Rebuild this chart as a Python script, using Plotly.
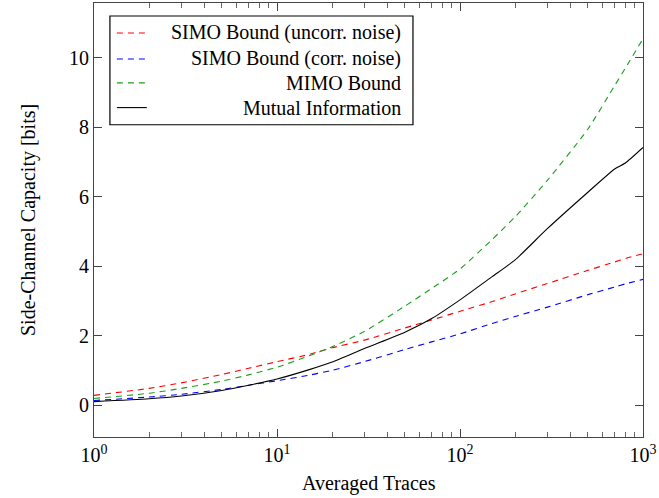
import plotly.graph_objects as go

# Data
x_vals = [1, 2, 3, 5, 7, 10, 15, 20, 30, 50, 70, 100, 150, 200, 300, 500, 700, 800, 1000]
simo_uncorr = [0.28, 0.48, 0.64, 0.88, 1.06, 1.25, 1.46, 1.65, 1.87, 2.22, 2.45, 2.70, 2.98, 3.20, 3.50, 3.88, 4.12, 4.22, 4.36]
simo_corr = [0.13, 0.23, 0.31, 0.45, 0.57, 0.70, 0.86, 1.00, 1.25, 1.60, 1.82, 2.05, 2.35, 2.55, 2.82, 3.18, 3.40, 3.49, 3.62]
mimo = [0.19, 0.34, 0.48, 0.69, 0.87, 1.09, 1.42, 1.68, 2.12, 2.85, 3.36, 3.92, 4.77, 5.42, 6.47, 7.95, 9.20, 9.70, 10.55]
mutual_info = [0.10, 0.18, 0.26, 0.42, 0.57, 0.75, 1.02, 1.24, 1.63, 2.10, 2.49, 3.03, 3.70, 4.18, 5.08, 6.13, 6.80, 6.97, 7.42]

series_names = ["SIMO Bound (uncorr. noise)", "SIMO Bound (corr. noise)", "MIMO Bound", "Mutual Information"]
series_colors = ["#ff0000", "#0000ff", "#1a9e1a", "#000000"]
series_dash = ["6px,5px", "6px,5px", "6px,5px", "solid"]
series_data = [simo_uncorr, simo_corr, mimo, mutual_info]

x_tickvals = [1, 10, 100, 1000]
x_ticktext = ["10<sup>0</sup>", "10<sup>1</sup>", "10<sup>2</sup>", "10<sup>3</sup>"]
y_tickvals = [0, 2, 4, 6, 8, 10]

FONT = "Liberation Serif"
FS = 20

fig = go.Figure()
for name, ys, col, dash in zip(series_names, series_data, series_colors, series_dash):
    fig.add_trace(go.Scatter(x=x_vals, y=ys, mode="lines", name=name,
                             line=dict(color=col, width=1.1, dash=dash, shape="spline", smoothing=0.6),
                             showlegend=False))

minor_vals = [m * 10 ** k for k in range(3) for m in range(2, 10)]

fig.update_layout(
    width=659, height=498,
    margin=dict(l=94, r=14, t=2, b=61),
    plot_bgcolor="white", paper_bgcolor="white",
    font=dict(family=FONT, size=FS, color="black"),
    xaxis=dict(type="log", range=[0, 3], tickvals=x_tickvals, ticktext=x_ticktext,
               ticks="inside", ticklen=8, tickcolor="#444", mirror="allticks",
               showline=True, linecolor="#444", linewidth=1.2, showgrid=False, zeroline=False,
               minor=dict(tickvals=minor_vals, ticks="inside", ticklen=5, tickcolor="#666", showgrid=False),
               tickfont=dict(family=FONT, size=FS)),
    yaxis=dict(range=[-0.92, 11.58], tickvals=y_tickvals,
               ticks="inside", ticklen=8, tickcolor="#444", mirror="allticks",
               showline=True, linecolor="#444", linewidth=1.2, showgrid=False, zeroline=False,
               tickfont=dict(family=FONT, size=FS)),
)

# axis titles
fig.add_annotation(text="Averaged Traces", xref="paper", yref="paper", x=0.5, y=0,
                   xanchor="center", yanchor="middle", yshift=-46, showarrow=False,
                   font=dict(family=FONT, size=FS))
fig.add_annotation(text="Side-Channel Capacity [bits]", xref="paper", yref="paper", x=0, y=0.5,
                   xanchor="center", yanchor="middle", xshift=-66, textangle=-90, showarrow=False,
                   font=dict(family=FONT, size=FS))

# legend box (manual, pgfplots style with right-aligned text)
fig.add_shape(type="rect", xref="paper", yref="paper", x0=0.029, x1=0.581, y0=0.7195, y1=0.970,
              line=dict(color="black", width=1.2), fillcolor="white", layer="above")
row_y = [0.931, 0.871, 0.816, 0.759]
for name, col, dash, ry in zip(series_names, series_colors, series_dash, row_y):
    fig.add_shape(type="line", xref="paper", yref="paper", x0=0.0417, x1=0.0962, y0=ry, y1=ry,
                  line=dict(color=col, width=1.1, dash=dash), layer="above")
    fig.add_annotation(text=name, xref="paper", yref="paper", x=0.5626, y=ry,
                       xanchor="right", yanchor="middle", showarrow=False,
                       font=dict(family=FONT, size=FS))

fig.write_html("out.html")
